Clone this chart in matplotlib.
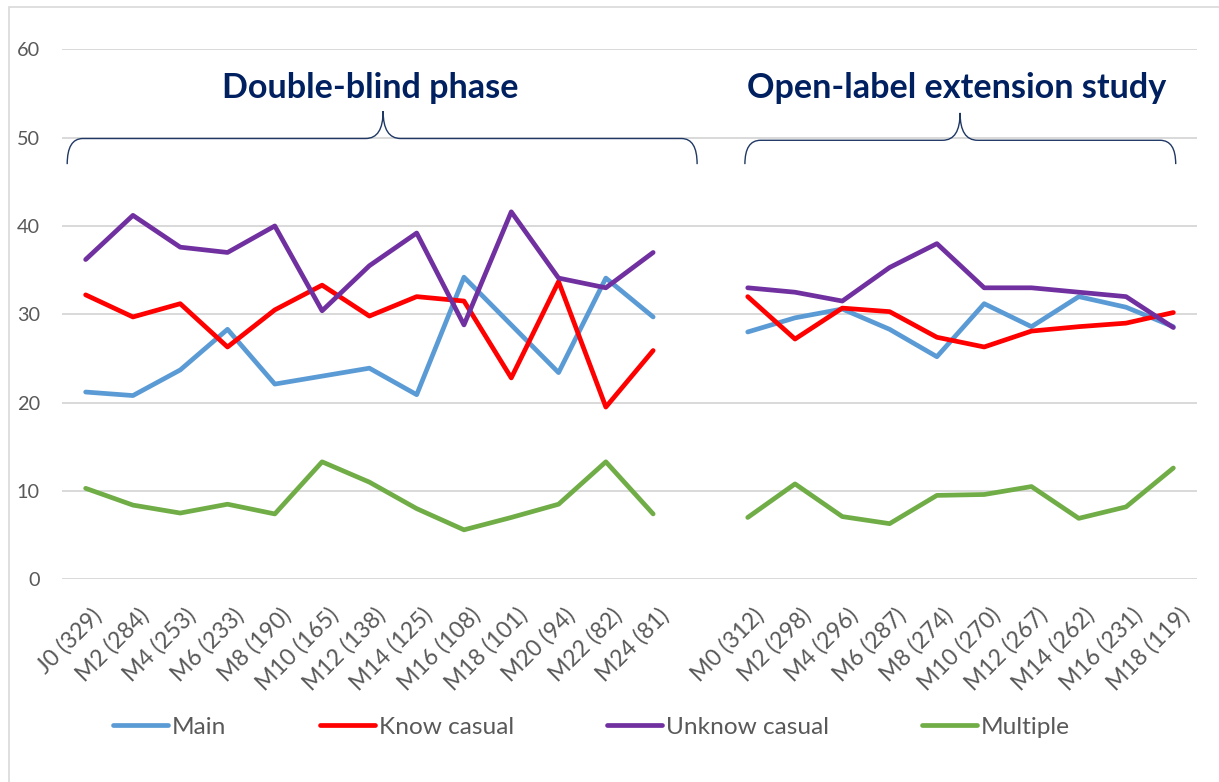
import matplotlib
matplotlib.use("Agg")
import matplotlib.pyplot as plt
import numpy as np
from matplotlib.path import Path
from matplotlib.patches import PathPatch, Rectangle
from matplotlib.transforms import ScaledTranslation

plt.rcParams['font.family'] = ['Lato', 'DejaVu Sans']

# ---------------- data ----------------
db_labels = ["J0 (329)", "M2 (284)", "M4 (253)", "M6 (233)", "M8 (190)", "M10 (165)",
             "M12 (138)", "M14 (125)", "M16 (108)", "M18 (101)", "M20 (94)", "M22 (82)", "M24 (81)"]
ol_labels = ["M0 (312)", "M2 (298)", "M4 (296)", "M6 (287)", "M8 (274)", "M10 (270)",
             "M12 (267)", "M14 (262)", "M16 (231)", "M18 (119)"]

db_main    = [21.2, 20.8, 23.7, 28.3, 22.1, 23.0, 23.9, 20.9, 34.2, 28.8, 23.4, 34.1, 29.7]
db_know    = [32.2, 29.7, 31.2, 26.3, 30.5, 33.3, 29.8, 32.0, 31.5, 22.8, 33.7, 19.5, 25.9]
db_unknow  = [36.2, 41.2, 37.6, 37.0, 40.0, 30.4, 35.5, 39.2, 28.8, 41.6, 34.1, 33.0, 37.0]
db_multi   = [10.3, 8.4, 7.5, 8.5, 7.4, 13.3, 11.0, 8.0, 5.6, 7.0, 8.5, 13.3, 7.4]

ol_main    = [28.0, 29.6, 30.6, 28.3, 25.2, 31.2, 28.6, 32.0, 30.8, 28.6]
ol_know    = [32.0, 27.2, 30.7, 30.3, 27.4, 26.3, 28.1, 28.6, 29.0, 30.2]
ol_unknow  = [33.0, 32.5, 31.5, 35.3, 38.0, 33.0, 33.0, 32.5, 32.0, 28.5]
ol_multi   = [7.0, 10.8, 7.1, 6.3, 9.5, 9.6, 10.5, 6.9, 8.2, 12.6]

series_names = ["Main", "Know casual", "Unknow casual", "Multiple"]
series_colors = ["#5B9BD5", "#FF0000", "#7030A0", "#70AD47"]
phase_titles = ["Double-blind phase", "Open-label extension study"]

# combined categorical axis with one empty slot between phases
labels = db_labels + [""] + ol_labels
gap = [np.nan]
series = [db_main + gap + ol_main,
          db_know + gap + ol_know,
          db_unknow + gap + ol_unknow,
          db_multi + gap + ol_multi]

# ---------------- figure ----------------
W, H = 1219, 782
fig = plt.figure(figsize=(W / 100, H / 100), dpi=100)

# chart area border
fig.patches.append(Rectangle((9 / W, -0.1), 1.2, 1 - 7 / H + 0.1, transform=fig.transFigure,
                             fill=False, edgecolor="#D9D9D9", linewidth=1.2))

ax = fig.add_axes([62 / W, (H - 579.3) / H, (1197 - 62) / W, (579.3 - 49.3) / H])
x = np.arange(len(labels))
grey = "#595959"

lines = []
for vals, name, col in zip(series, series_names, series_colors):
    ln, = ax.plot(x, vals, color=col, lw=3.4, solid_capstyle="round",
                  solid_joinstyle="round", label=name, zorder=3)
    lines.append(ln)

ax.set_xlim(-0.5, len(labels) - 0.5)
ax.set_ylim(0, 60)
ax.set_yticks(np.arange(0, 61, 10))
ax.yaxis.grid(True, color="#D9D9D9", lw=1.4)
ax.set_axisbelow(True)
for s in ax.spines.values():
    s.set_visible(False)
ax.tick_params(axis="y", length=0, pad=16, labelsize=14.3, labelcolor=grey)
ax.tick_params(axis="x", length=0, pad=18, labelsize=16.6, labelcolor=grey)

ax.set_xticks(x)
ax.set_xticklabels(labels, rotation=45, ha="right", va="top", rotation_mode="anchor")
off = ScaledTranslation(5 / 100, 0, fig.dpi_scale_trans)
for lab in ax.get_xticklabels():
    lab.set_transform(lab.get_transform() + off)

# ---------------- braces & phase titles ----------------
navy = "#002060"
brace_col = "#1F3864"

def brace(x0, x1, xt, yb, yh, ytip, rx, rt):
    verts = [(x0, yb), (x0, yh), (x0 + rx, yh),
             (xt - rt, yh),
             (xt, yh), (xt, ytip),
             (xt, yh), (xt + rt, yh),
             (x1 - rx, yh),
             (x1, yh), (x1, yb)]
    codes = [Path.MOVETO, Path.CURVE3, Path.CURVE3,
             Path.LINETO,
             Path.CURVE3, Path.CURVE3,
             Path.CURVE3, Path.CURVE3,
             Path.LINETO,
             Path.CURVE3, Path.CURVE3]
    ax.add_patch(PathPatch(Path(verts, codes), fill=False, edgecolor=brace_col,
                           lw=1.0, clip_on=False, zorder=4))

n_db = len(db_labels)
n_ol = len(ol_labels)
brace(-0.39, n_db - 0.07, (n_db - 1) / 2 + 0.29, 47.0, 49.9, 53.0, 0.33, 0.37)
brace(n_db + 0.94, n_db + n_ol + 0.05, n_db + 1 + (n_ol - 1) / 2 - 0.01, 47.0, 49.7, 52.8, 0.33, 0.37)

ax.text((n_db - 1) / 2 + 0.02, 55.6, phase_titles[0], ha="center", va="center",
        fontsize=24.6, fontweight="bold", color=navy)
ax.text(n_db + 1 + (n_ol - 1) / 2 - 0.08, 55.6, phase_titles[1], ha="center", va="center",
        fontsize=24.6, fontweight="bold", color=navy)

# ---------------- legend ----------------
fs = 17.6
fs_px = fs * 100 / 72
leg = fig.legend(lines, series_names, loc="center", bbox_to_anchor=(591.5 / W, 1 - 727 / H),
                 ncol=4, frameon=False, fontsize=fs, handlelength=55 / fs_px,
                 handletextpad=4 / fs_px, columnspacing=93 / fs_px)
for t in leg.get_texts():
    t.set_color(grey)
for h in leg.legend_handles:
    h.set_solid_capstyle("round")

fig.savefig("out.png", dpi=100)
